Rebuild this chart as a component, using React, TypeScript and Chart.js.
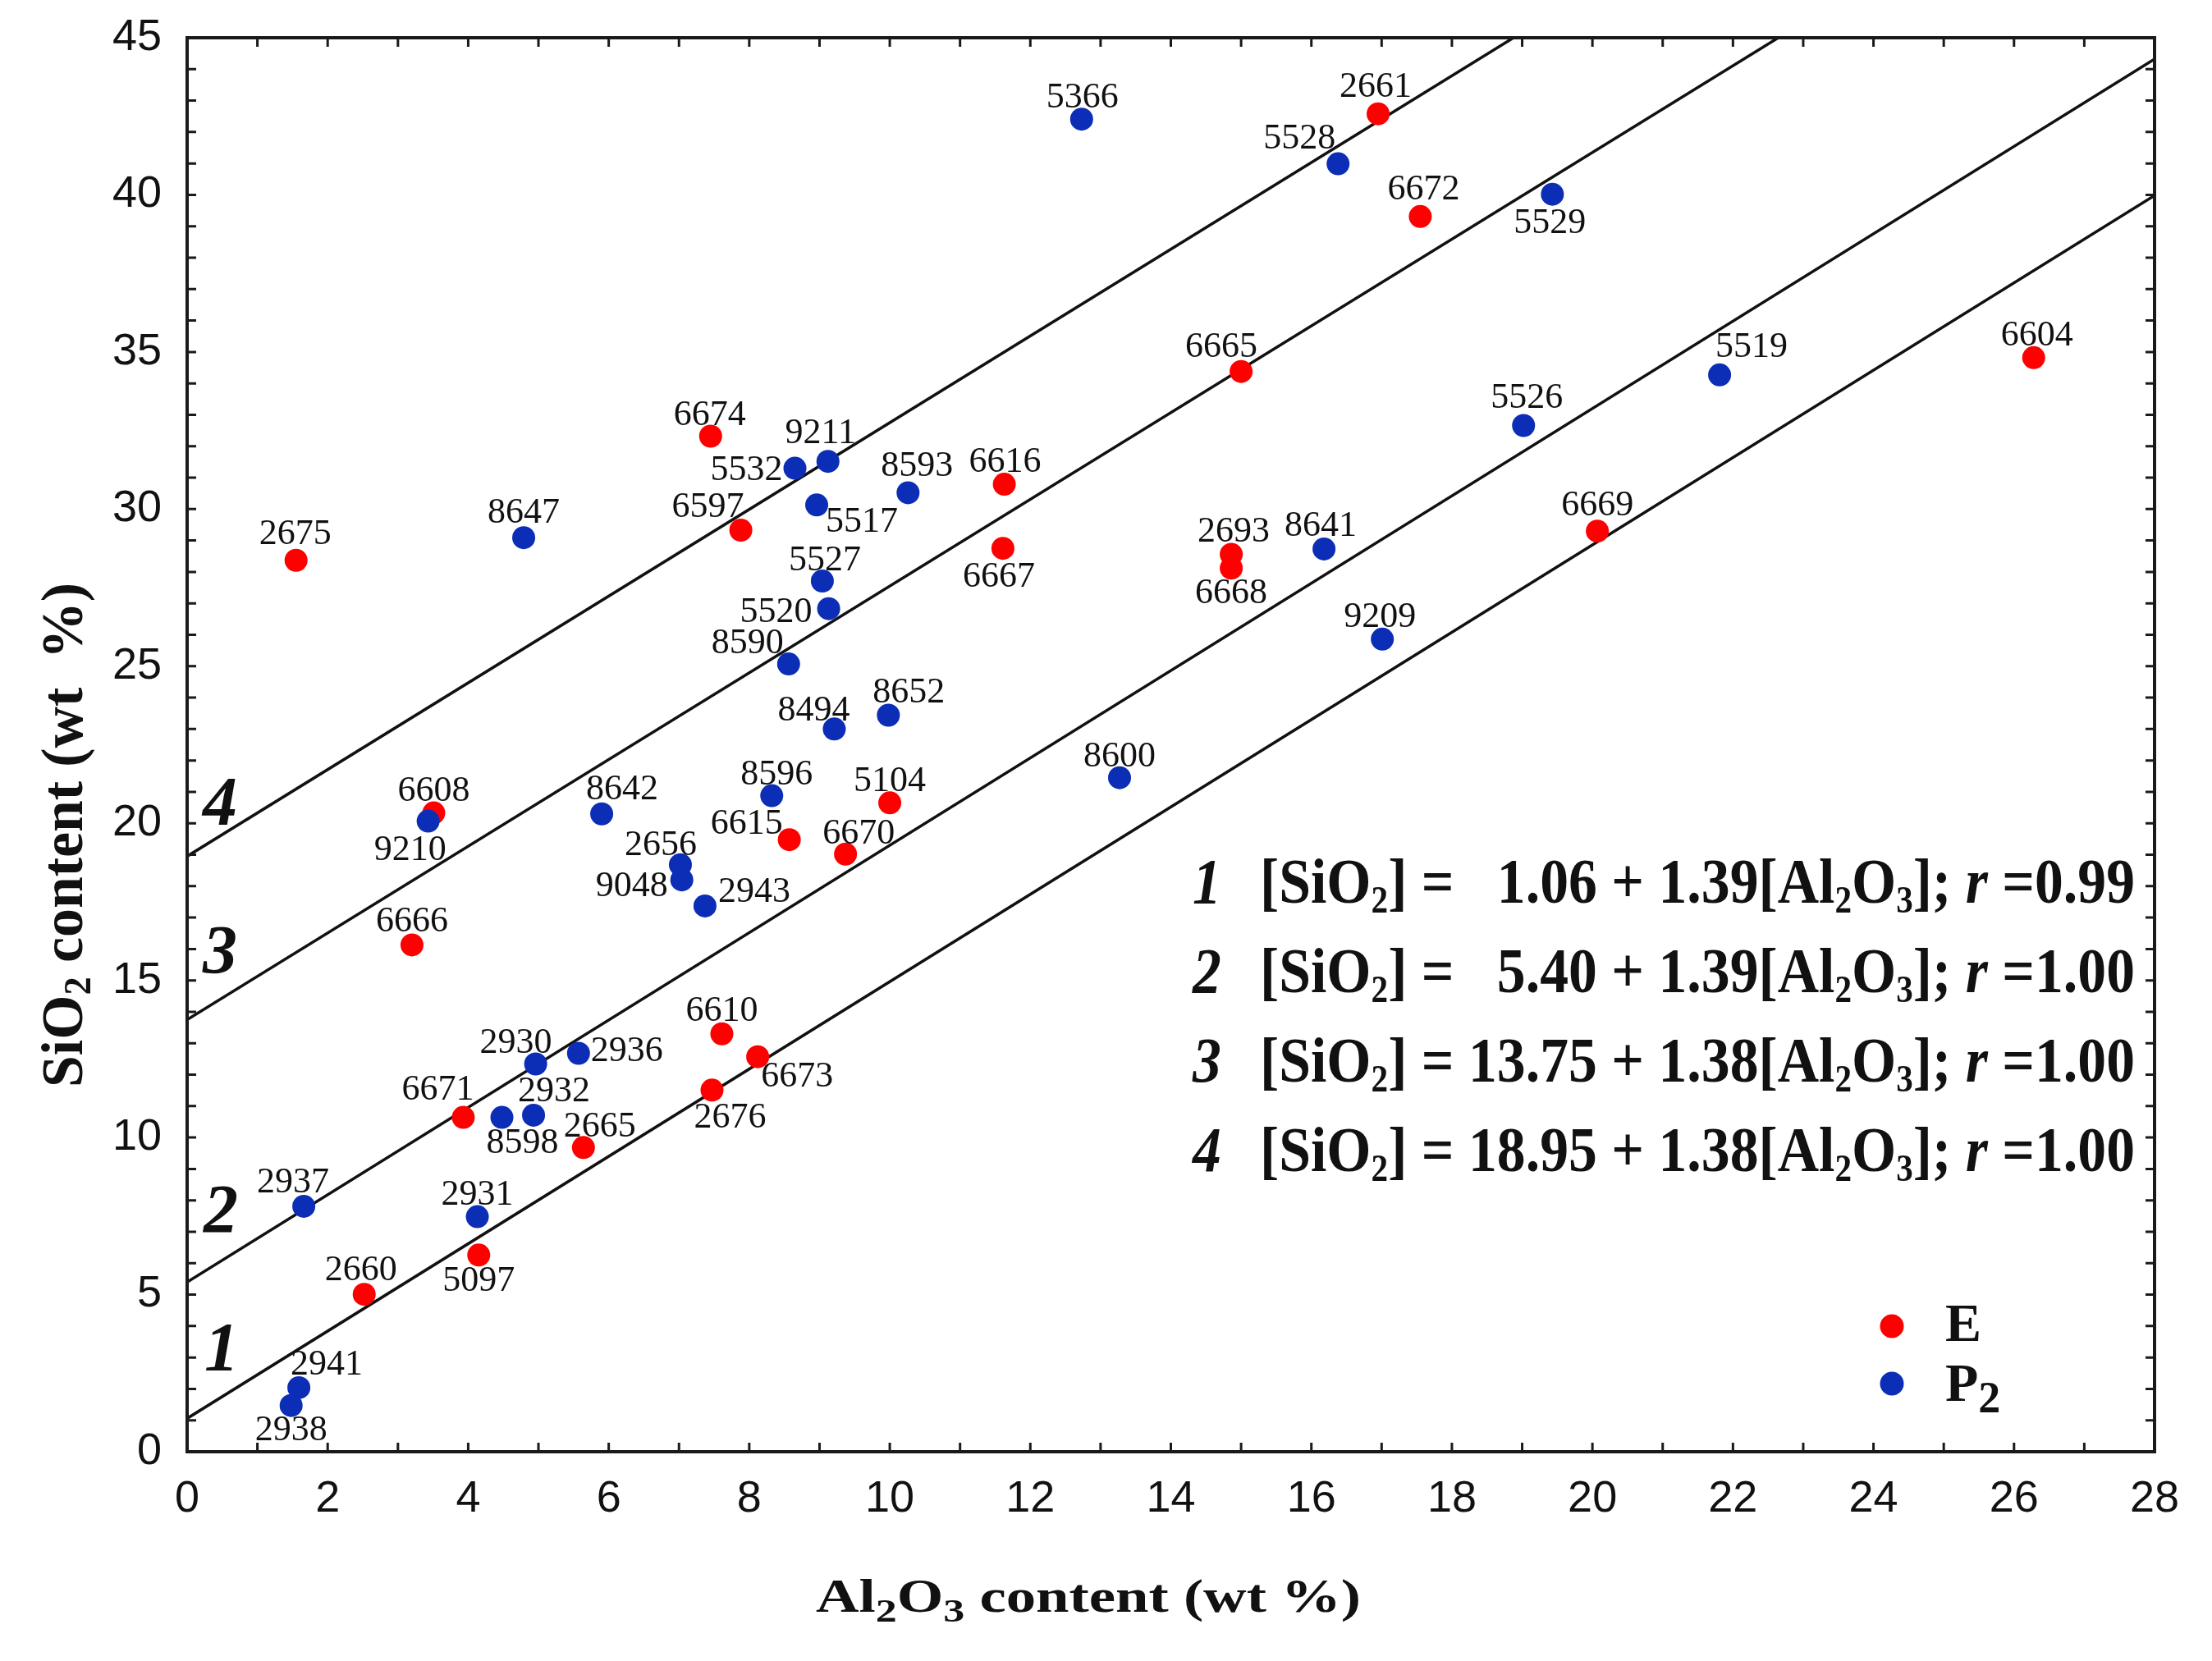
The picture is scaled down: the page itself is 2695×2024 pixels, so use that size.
import { useEffect, useRef } from 'react';
import { Chart, registerables } from 'chart.js';

Chart.register(...registerables);

// group E samples: id, Al2O3 (wt %), SiO2 (wt %)
const E_IDS = ['2661', '6672', '6665', '6604', '6674', '6616', '6597', '6667', '2693', '6668', '6669', '2675', '6608', '5104', '6615', '6670', '6666', '6610', '6673', '2676', '6671', '2665', '5097', '2660'];
const E_AL2O3 = [16.95, 17.55, 15.0, 26.28, 7.45, 11.63, 7.88, 11.61, 14.86, 14.86, 20.07, 1.55, 3.51, 10.0, 8.57, 9.37, 3.2, 7.61, 8.12, 7.47, 3.93, 5.64, 4.15, 2.52];
const E_SIO2 = [42.58, 39.31, 34.38, 34.82, 32.32, 30.79, 29.33, 28.75, 28.56, 28.12, 29.3, 28.37, 20.33, 20.65, 19.48, 19.02, 16.13, 13.3, 12.57, 11.51, 10.64, 9.68, 6.26, 5.01];

// group P2 samples
const P2_IDS = ['5366', '5528', '5529', '5519', '5526', '9211', '5532', '8593', '5517', '8647', '8641', '5527', '5520', '8590', '9209', '8652', '8494', '8600', '8596', '8642', '9210', '2656', '9048', '2943', '2936', '2930', '2932', '8598', '2937', '2931', '2941', '2938'];
const P2_AL2O3 = [12.73, 16.38, 19.43, 21.81, 19.02, 9.12, 8.65, 10.26, 8.96, 4.79, 16.18, 9.04, 9.13, 8.56, 17.01, 9.98, 9.21, 13.27, 8.32, 5.9, 3.43, 7.02, 7.04, 7.37, 5.57, 4.96, 4.93, 4.48, 1.66, 4.13, 1.59, 1.48];
const P2_SIO2 = [42.41, 40.99, 40.02, 34.27, 32.66, 31.52, 31.3, 30.52, 30.13, 29.09, 28.73, 27.71, 26.83, 25.07, 25.86, 23.44, 23.0, 21.45, 20.88, 20.3, 20.07, 18.68, 18.2, 17.37, 12.68, 12.34, 10.71, 10.64, 7.81, 7.48, 2.04, 1.47];

// regression lines 1-4
const LINE_NO = ['1', '2', '3', '4'];
const LINE_INTERCEPT = [1.06, 5.4, 13.75, 18.95];
const LINE_SLOPE = [1.39, 1.39, 1.38, 1.38];
const LINE_R = ['0.99', '1.00', '1.00', '1.00'];

const X_MIN = 0;
const X_MAX = 28;
const X_STEP = 2;
const Y_MIN = 0;
const Y_MAX = 45;
const Y_STEP = 5;

// where each sample number sits relative to its dot (px: centre dx, baseline dy)
const E_LABEL_OFFSET: [number, number][] = [
  [-3, -21], [4, -21], [-24, -18], [4, -15], [-1, -14], [1, -15], [-40, -16], [-5, 47], [3, -15], [0, 43], [0, -19], [-1, -20],
  [0, -15], [0, -14], [-52, -7], [16, -13], [0, -16], [0, -16], [48, 36], [22, 46], [-31, -22], [20, -13], [0, 44], [-4, -17],
];
const P2_LABEL_OFFSET: [number, number][] = [
  [1, -14], [-47, -19], [-3, 47], [39, -22], [4, -21], [-9, -22], [-59, 14], [11, -20], [55, 33], [0, -18], [-4, -16], [3, -13],
  [-64, 16], [-50, -13], [-3, -15], [25, -16], [-25, -10], [0, -14], [6, -14], [25, -18], [-22, 47], [-24, -12], [-61, 20], [60, -5],
  [59, 10], [-24, -14], [25, -17], [25, 43], [-13, -17], [0, -15], [34, -16], [0, 42],
];

const RED = '#ff0000';
const BLUE = '#0c2db6';
const INK = '#111';

type Run = [string, string, number?];

const serif = (size: number, style = '') => `${style} ${size}px "Liberation Serif", "Times New Roman", serif`.trim();

function runsWidth(ctx: CanvasRenderingContext2D, runs: Run[]) {
  let w = 0;
  for (const [t, f] of runs) {
    ctx.font = f;
    w += ctx.measureText(t).width;
  }
  return w;
}

function drawRuns(ctx: CanvasRenderingContext2D, runs: Run[], x: number, y: number, sx = 1, angle = 0) {
  ctx.save();
  ctx.translate(x, y);
  if (angle) ctx.rotate(angle);
  ctx.scale(sx, 1);
  ctx.textAlign = 'left';
  ctx.textBaseline = 'alphabetic';
  let cx = 0;
  for (const [t, f, dy = 0] of runs) {
    ctx.font = f;
    ctx.fillText(t, cx, dy);
    cx += ctx.measureText(t).width;
  }
  ctx.restore();
}

const annotate = {
  id: 'annotate',
  afterDatasetsDraw(chart: Chart) {
    const { ctx, chartArea: a } = chart;
    const x = chart.scales.x;
    const y = chart.scales.y;
    ctx.save();

    // frame with inward ticks on all four sides
    ctx.strokeStyle = '#1a1a1a';
    ctx.lineWidth = 4;
    ctx.strokeRect(a.left, a.top, a.right - a.left, a.bottom - a.top);
    ctx.lineWidth = 3;
    ctx.beginPath();
    for (let v = X_MIN; v <= X_MAX; v++) {
      const px = x.getPixelForValue(v);
      ctx.moveTo(px, a.bottom);
      ctx.lineTo(px, a.bottom - 11);
      ctx.moveTo(px, a.top);
      ctx.lineTo(px, a.top + 11);
    }
    for (let v = Y_MIN; v <= Y_MAX; v++) {
      const py = y.getPixelForValue(v);
      ctx.moveTo(a.left, py);
      ctx.lineTo(a.left + 11, py);
      ctx.moveTo(a.right, py);
      ctx.lineTo(a.right - 11, py);
    }
    ctx.stroke();

    // sample numbers
    ctx.fillStyle = INK;
    ctx.font = serif(44);
    ctx.textAlign = 'center';
    ctx.textBaseline = 'alphabetic';
    const groups: [string[], [number, number][]][] = [[E_IDS, E_LABEL_OFFSET], [P2_IDS, P2_LABEL_OFFSET]];
    groups.forEach(([ids, offs], di) => {
      const meta = chart.getDatasetMeta(di);
      meta.data.forEach((pt, i) => {
        const [dx, dy] = offs[i];
        ctx.fillText(ids[i], pt.x + dx, pt.y + dy);
      });
    });

    // line numbers at the left edge
    const lineLabelPos: [number, number][] = [[249, 1670], [248, 1502], [247, 1186], [247, 1005]];
    LINE_NO.forEach((n, i) => {
      drawRuns(ctx, [[n, serif(84, 'italic bold')]], lineLabelPos[i][0], lineLabelPos[i][1]);
    });

    // regression equations (tall, slightly condensed type as in the source figure)
    const B = serif(78, 'bold');
    const BI = serif(78, 'italic bold');
    const SUB = serif(46, 'bold');
    const lhs: Run[] = [['[SiO', B], ['2', SUB, 12], ['] =', B]];
    const rhs = (i: number): Run[] => [
      [`${LINE_INTERCEPT[i].toFixed(2)} + ${LINE_SLOPE[i].toFixed(2)}[Al`, B],
      ['2', SUB, 12],
      ['O', B],
      ['3', SUB, 12],
      ['];', B],
      [' r', BI],
      [` =${LINE_R[i]}`, B],
    ];
    const eqLeft = 1535;
    const eqRight = 2601;
    const s = (eqRight - eqLeft) / runsWidth(ctx, [...lhs, [' ', B], ...rhs(2)]);
    const eqBase = [1100, 1209, 1318, 1427];
    LINE_NO.forEach((n, i) => {
      drawRuns(ctx, [[n, BI]], 1453, eqBase[i], s);
      drawRuns(ctx, lhs, eqLeft, eqBase[i], s);
      drawRuns(ctx, rhs(i), eqRight - s * runsWidth(ctx, rhs(i)), eqBase[i], s);
    });

    // legend
    const legend: [string, Run[]][] = [
      [RED, [['E', serif(66, 'bold')]]],
      [BLUE, [['P', serif(66, 'bold')], ['2', serif(54, 'bold'), 14]]],
    ];
    legend.forEach(([c, runs], i) => {
      const cy = 1616 + i * 70;
      ctx.fillStyle = c;
      ctx.beginPath();
      ctx.arc(2305, cy, 14.5, 0, Math.PI * 2);
      ctx.fill();
      ctx.fillStyle = INK;
      drawRuns(ctx, runs, 2370, [1634, 1707][i]);
    });

    // axis titles
    const xt: Run[] = [['Al', serif(56, 'bold')], ['2', serif(40, 'bold'), 12], ['O', serif(56, 'bold')], ['3', serif(40, 'bold'), 12], [' content (wt %)', serif(56, 'bold')]];
    drawRuns(ctx, xt, 994, 1964, 664 / runsWidth(ctx, xt));
    const yt: Run[] = [['SiO', serif(72, 'bold')], ['2', serif(46, 'bold'), 10], [' content (wt  %)', serif(72, 'bold')]];
    drawRuns(ctx, yt, 100, 1325, 615 / runsWidth(ctx, yt), -Math.PI / 2);

    ctx.restore();
  },
};

export default function App() {
  const canvasRef = useRef<HTMLCanvasElement>(null);

  useEffect(() => {
    if (!canvasRef.current) return;

    const lineSets = LINE_NO.map((n, i) => ({
      label: `line ${n}`,
      data: [X_MIN, X_MAX].map((v) => ({ x: v, y: LINE_INTERCEPT[i] + LINE_SLOPE[i] * v })),
      showLine: true,
      borderColor: '#111',
      borderWidth: 3.5,
      pointRadius: 0,
      order: 3,
    }));

    const chart = new Chart(canvasRef.current, {
      type: 'scatter',
      data: {
        datasets: [
          {
            label: 'E',
            data: E_AL2O3.map((v, i) => ({ x: v, y: E_SIO2[i] })),
            backgroundColor: RED,
            borderWidth: 0,
            pointRadius: 14,
            order: 2,
          },
          {
            label: 'P2',
            data: P2_AL2O3.map((v, i) => ({ x: v, y: P2_SIO2[i] })),
            backgroundColor: BLUE,
            borderWidth: 0,
            pointRadius: 14,
            order: 1,
          },
          ...lineSets,
        ],
      },
      options: {
        animation: false,
        responsive: true,
        maintainAspectRatio: false,
        devicePixelRatio: 1,
        events: [],
        layout: { padding: { left: 0, top: 46, right: 70, bottom: 0 } },
        plugins: {
          legend: { display: false },
          tooltip: { enabled: false },
        },
        scales: {
          x: {
            type: 'linear',
            min: X_MIN,
            max: X_MAX,
            grid: { display: false, drawTicks: false },
            border: { display: false },
            ticks: {
              stepSize: X_STEP,
              autoSkip: false,
              maxRotation: 0,
              padding: 26,
              color: INK,
              font: { family: '"Liberation Sans", Arial, sans-serif', size: 54 },
            },
            afterFit: (scale) => {
              scale.height = 255;
              scale.paddingLeft = 0;
              scale.paddingRight = 0;
            },
          },
          y: {
            type: 'linear',
            min: Y_MIN,
            max: Y_MAX,
            grid: { display: false, drawTicks: false },
            border: { display: false },
            ticks: {
              stepSize: Y_STEP,
              padding: 31,
              color: INK,
              font: { family: '"Liberation Sans", Arial, sans-serif', size: 54 },
            },
            afterFit: (scale) => {
              scale.width = 228;
              scale.paddingTop = 0;
              scale.paddingBottom = 0;
            },
          },
        },
      },
      plugins: [annotate],
    });

    return () => chart.destroy();
  }, []);

  return (
    <div style={{ position: 'fixed', left: 0, top: 0, width: 2695, height: 2024, background: '#fff' }}>
      <canvas ref={canvasRef} />
    </div>
  );
}
